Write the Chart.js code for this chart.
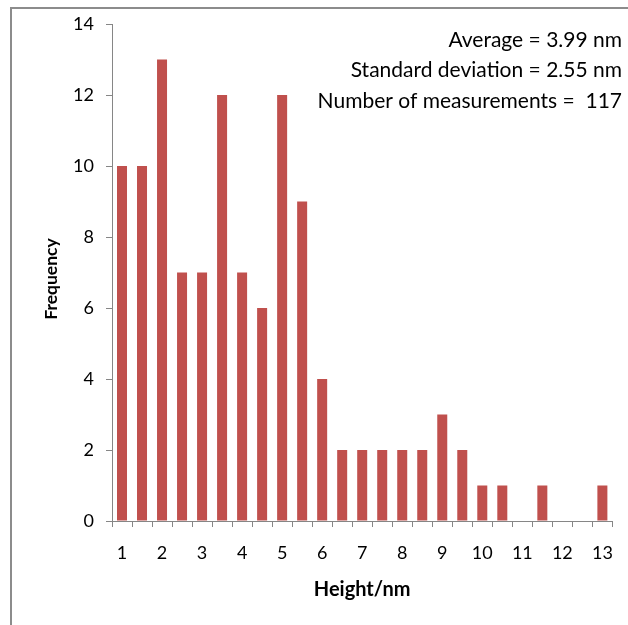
<!DOCTYPE html>
<html lang="en">
<head>
    <meta charset="UTF-8">
    <title>Height histogram</title>
    <style>
        html, body { margin: 0; padding: 0; background: #fff; }
        #wrap { width: 628px; height: 625px; }
    </style>
</head>
<body>
    <div id="wrap"><canvas id="histChart"></canvas></div>

    <script src="https://cdn.jsdelivr.net/npm/chart.js"></script>
    <script>
        // bin centres (nm) and counts
        const bins = [1, 1.5, 2, 2.5, 3, 3.5, 4, 4.5, 5, 5.5, 6, 6.5, 7, 7.5, 8, 8.5, 9, 9.5, 10, 10.5, 11, 11.5, 12, 12.5, 13];
        const counts = [10, 10, 13, 7, 7, 12, 7, 6, 12, 9, 4, 2, 2, 2, 2, 2, 3, 2, 1, 1, 0, 1, 0, 0, 1];
        const yTicks = [0, 2, 4, 6, 8, 10, 12, 14];
        const statLines = ['Average = 3.99 nm', 'Standard deviation = 2.55 nm', 'Number of measurements =  117'];

        const axisGray = '#868686';
        const fontFamily = 'Lato, "Open Sans", sans-serif';

        // only whole numbers get a label
        const xLabels = bins.map(b => Number.isInteger(b) ? String(b) : '');

        const framePlugin = {
            id: 'frame',
            beforeDraw(chart) {
                const ctx = chart.ctx;
                ctx.save();
                ctx.fillStyle = '#fff';
                ctx.fillRect(0, 0, chart.width, chart.height);
                ctx.strokeStyle = '#8c8c8c';
                ctx.lineWidth = 2;
                ctx.strokeRect(11, 8, chart.width + 50, chart.height + 50);
                ctx.restore();
            },
            afterDraw(chart) {
                const ctx = chart.ctx;
                ctx.save();
                ctx.font = '21px ' + fontFamily;
                ctx.fillStyle = '#000';
                ctx.textAlign = 'right';
                ctx.textBaseline = 'middle';
                statLines.forEach((line, i) => {
                    ctx.fillText(line, 622, 40 + i * 30.5);
                });

                // y axis title, a bit below the plot centre like the original
                ctx.font = 'bold 17.5px ' + fontFamily;
                ctx.textAlign = 'center';
                ctx.translate(51, 279);
                ctx.rotate(-Math.PI / 2);
                ctx.fillText('Frequency', 0, 0);
                ctx.restore();
            }
        };

        new Chart(document.getElementById('histChart'), {
            type: 'bar',
            data: {
                labels: xLabels,
                datasets: [{
                    label: 'Frequency',
                    data: counts,
                    backgroundColor: '#C0504D',
                    borderWidth: 0,
                    barPercentage: 0.5,
                    categoryPercentage: 1.0
                }]
            },
            options: {
                responsive: true,
                maintainAspectRatio: false,
                animation: false,
                layout: { padding: { top: 24, right: 9, bottom: 0, left: 0 } },
                plugins: {
                    legend: { display: false },
                    tooltip: { enabled: false }
                },
                scales: {
                    x: {
                        offset: true,
                        grid: {
                            offset: true,
                            drawOnChartArea: false,
                            drawTicks: true,
                            tickLength: 6,
                            color: axisGray
                        },
                        border: { color: axisGray, width: 1 },
                        ticks: {
                            autoSkip: false,
                            maxRotation: 0,
                            padding: 15,
                            color: '#000',
                            font: { family: fontFamily, size: 18 }
                        },
                        title: {
                            display: true,
                            text: 'Height/nm',
                            color: '#000',
                            font: { family: fontFamily, size: 20, weight: 'bold' },
                            padding: { top: 0, bottom: 23 }
                        },
                        afterFit(scale) { scale.height = 104; }
                    },
                    y: {
                        min: 0,
                        max: 14,
                        afterBuildTicks(scale) {
                            scale.ticks = yTicks.map(v => ({ value: v }));
                        },
                        grid: {
                            drawOnChartArea: false,
                            drawTicks: true,
                            tickLength: 6,
                            color: axisGray
                        },
                        border: { color: axisGray, width: 1 },
                        ticks: {
                            padding: 12,
                            color: '#000',
                            font: { family: fontFamily, size: 18 }
                        },
                        afterFit(scale) { scale.width = 112; }
                    }
                }
            },
            plugins: [framePlugin]
        });
    </script>
</body>
</html>
